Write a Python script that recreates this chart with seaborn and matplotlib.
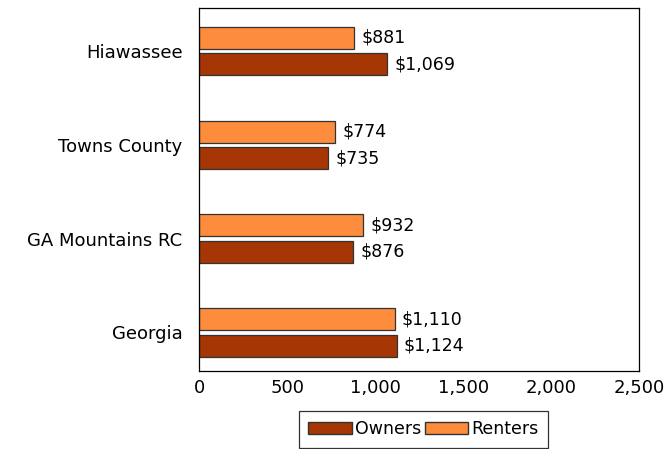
import matplotlib
matplotlib.use("Agg")
import matplotlib.pyplot as plt
import seaborn as sns
import pandas as pd
from matplotlib.patches import Patch

categories = ["Hiawassee", "Towns County", "GA Mountains RC", "Georgia"]
owners = [1069, 735, 876, 1124]
renters = [881, 774, 932, 1110]
xticks = [0, 500, 1000, 1500, 2000, 2500]
xtick_labels = ["0", "500", "1,000", "1,500", "2,000", "2,500"]

sns.set_theme(style="white")
plt.rcParams["font.family"] = ["DejaVu Sans"]

owner_color = "#A63603"
renter_color = "#FD8D3C"

df = pd.DataFrame({
    "Region": categories * 2,
    "Value": renters + owners,
    "Tenure": ["Renters"] * len(categories) + ["Owners"] * len(categories),
})

fig = plt.figure(figsize=(6.68, 4.49), dpi=100)
ax = fig.add_axes([0.298, 0.174, 0.659, 0.808])

sns.barplot(data=df, y="Region", x="Value", hue="Tenure", orient="h",
            hue_order=["Renters", "Owners"], order=categories,
            palette={"Renters": renter_color, "Owners": owner_color},
            saturation=1, width=0.565, gap=0.17, edgecolor="#333333",
            linewidth=0.9, legend=False, ax=ax)

for cont in ax.containers:
    ax.bar_label(cont, labels=["$" + f"{v:,.0f}" for v in cont.datavalues],
                 padding=5, fontsize=12.5, color="black")

ax.set_xlim(0, 2500)
ax.set_ylim(3.41, -0.46)
ax.set_xticks(xticks)
ax.set_xticklabels(xtick_labels, fontsize=13, color="black")
for t in ax.get_yticklabels():
    t.set_color("black")
    t.set_fontsize(13)
ax.tick_params(axis="y", length=0, pad=12)
ax.tick_params(axis="x", length=0, pad=6)
ax.set_xlabel("")
ax.set_ylabel("")
for s in ax.spines.values():
    s.set_visible(True)
    s.set_color("black")
    s.set_linewidth(0.9)

handles = [Patch(facecolor=owner_color, edgecolor="#333333", label="Owners"),
           Patch(facecolor=renter_color, edgecolor="#333333", label="Renters")]
leg = ax.legend(handles=handles, loc="upper center", bbox_to_anchor=(0.51, -0.11),
                ncol=2, frameon=True, fancybox=False, fontsize=12.5,
                handlelength=2.5, handleheight=0.7, handletextpad=0.2,
                columnspacing=0.2, borderpad=0.55, borderaxespad=0,
                labelcolor="black")
leg.get_frame().set_edgecolor("black")
leg.get_frame().set_linewidth(0.9)

fig.savefig("out.png", dpi=100)
